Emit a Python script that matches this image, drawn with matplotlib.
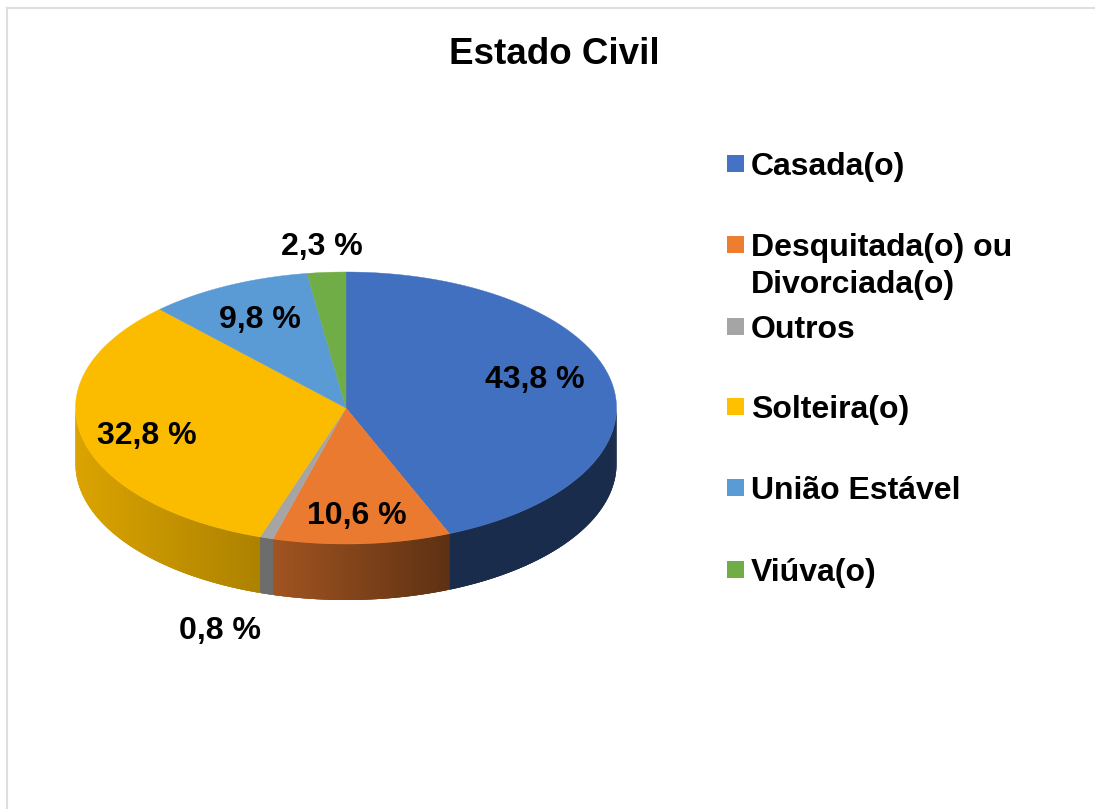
import numpy as np
import matplotlib
matplotlib.use('Agg')
import matplotlib.pyplot as plt
from matplotlib.patches import Rectangle, Polygon

plt.rcParams['font.family'] = ['Liberation Sans', 'DejaVu Sans']

categories = ['Casada(o)', 'Desquitada(o) ou\nDivorciada(o)', 'Outros', 'Solteira(o)', 'União Estável', 'Viúva(o)']
values = [43.8, 10.6, 0.8, 32.8, 9.8, 2.3]
value_labels = ['43,8 %', '10,6 %', '0,8 %', '32,8 %', '9,8 %', '2,3 %']
colors = ['#4270c0', '#ea7a2f', '#a5a5a5', '#fbbc00', '#5b9bd5', '#70ad47']
legend_colors = ['#4472c4', '#ed7d31', '#a5a5a5', '#ffc000', '#5b9bd5', '#70ad47']
# brightness of the side wall at its left and right end
side_shades = [(0.39, 0.39), (0.69, 0.40), (0.66, 0.66), (0.87, 0.69), (1, 1), (1, 1)]

W, H = 1095, 809
fig = plt.figure(figsize=(W / 100, H / 100), dpi=100)
ax = fig.add_axes([0, 0, 1, 1])
# pixel space, y going down
ax.set_xlim(0, W)
ax.set_ylim(H, 0)
ax.axis('off')

# chart frame
ax.plot([7, 7], [H, 8], color='#dedede', lw=1.5)
ax.plot([7, W], [8, 8], color='#dedede', lw=1.5)

cx, cy, rx, ry, depth = 346, 408, 270.5, 136, 56


def ell(t):
    # t in degrees clockwise from the top
    r = np.radians(t)
    return cx + rx * np.sin(r), cy - ry * np.cos(r)


def shade(col, f):
    c = np.array(matplotlib.colors.to_rgb(col))
    return tuple(c * f)


total = sum(values)
edges = np.cumsum([0] + values) / total * 360

# side wall, only front half (90..270 deg) shows
for i, col in enumerate(colors):
    a0, a1 = max(edges[i], 90), min(edges[i + 1], 270)
    if a1 <= a0:
        continue
    left, right = side_shades[i]
    xa, xb = ell(a1)[0], ell(a0)[0]
    steps = np.linspace(a0, a1, int((a1 - a0) * 4) + 2)
    # strips overlap the next one so no seams show
    for j in range(len(steps) - 1):
        s0 = steps[j]
        s2 = steps[min(j + 3, len(steps) - 1)]
        ts = np.linspace(s0, s2, 4)
        top = [ell(t) for t in ts]
        bottom = [(x, y + depth) for x, y in top][::-1]
        u = (ell(s0)[0] - xa) / max(xb - xa, 1)
        f = left + (right - left) * u
        ax.add_patch(Polygon(top + bottom, closed=True, fc=shade(col, f), ec='none'))

# top face, built as ellipse polygons
for i, col in enumerate(colors):
    ts = np.linspace(edges[i], edges[i + 1], 200)
    pts = [(cx, cy)] + [ell(t) for t in ts]
    ax.add_patch(Polygon(pts, closed=True, fc=col, ec=col, lw=0.3))

# data labels
label_pos = [(535, 380), (357, 516), (220, 631), (147, 436), (260, 320), (322, 247)]
for txt, (x, y) in zip(value_labels, label_pos):
    ax.text(x, y, txt, fontsize=23, fontweight='bold', ha='center', va='center', color='black')

ax.text(554, 54.5, 'Estado Civil', fontsize=26.5, fontweight='bold', ha='center', va='center', color='black')

# legend
legend_y = [164, 245, 327, 407, 488, 570]
for name, col, y in zip(categories, legend_colors, legend_y):
    ax.add_patch(Rectangle((727, y - 9), 17, 17, fc=col, ec='none'))
    lines = name.split('\n')
    for j, line in enumerate(lines):
        ax.text(751, y + 3 + j * 37, line, fontsize=23, fontweight='bold', ha='left', va='center', color='black')

fig.savefig('out.png', dpi=100)
